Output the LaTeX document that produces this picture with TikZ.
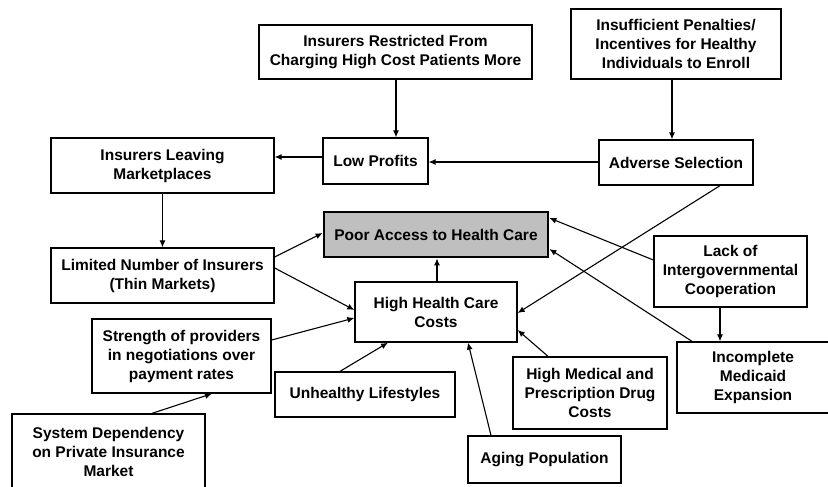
\documentclass[tikz,border=0pt]{standalone}
\usepackage{fontspec}
\setmainfont{Liberation Sans}
\usetikzlibrary{arrows.meta}
\begin{document}
\begin{tikzpicture}[x=1pt,y=-1pt,
  box/.style={draw, line width=1.3pt, rectangle, inner sep=0pt, align=center,
    font=\fontsize{15.5}{19}\selectfont\bfseries},
  sz/.style 2 args={minimum width=#1pt, minimum height=#2pt},
  focus/.style={box, fill=black!25, line width=2.8pt},
  link/.style={line width=1.1pt, -{Latex[length=7pt,width=6pt]}}]
\useasboundingbox (0,0) rectangle (828,487);
\begin{scope}
\clip (0,0) rectangle (828,487);
% boxes
\node[box, sz={273}{54}] (restr) at (395.5,52) {Insurers Restricted From\\Charging High Cost Patients More};
\node[box, sz={210}{70}] (insuf) at (676,44) {Insufficient Penalties/\\Incentives for Healthy\\Individuals to Enroll};
\node[box, sz={223}{55}] (leaving) at (162.5,165.5) {Insurers Leaving\\Marketplaces};
\node[box, sz={105}{46}] (lowp) at (375.5,161) {Low Profits};
\node[box, sz={154}{45}] (adverse) at (676,162.5) {Adverse Selection};
\node[focus, sz={224}{45}] (poor) at (436,234.5) {Poor Access to Health Care};
\node[box, sz={223}{55}] (limited) at (162.5,275.5) {Limited Number of Insurers\\(Thin Markets)};
\node[box, sz={162}{60}] (hhc) at (436,312) {High Health Care\\Costs};
\node[box, sz={179}{74}] (strength) at (181.5,356) {Strength of providers\\in negotiations over\\payment rates};
\node[box, sz={180}{45}] (unhealthy) at (365,394.5) {Unhealthy Lifestyles};
\node[box, sz={193}{76}] (system) at (108.5,452) {System Dependency\\on Private Insurance\\Market};
\node[box, sz={154}{72}] (himed) at (590,393) {High Medical and\\Prescription Drug\\Costs};
\node[box, sz={153}{47}] (aging) at (544.5,459.5) {Aging Population};
\node[box, sz={153}{71}] (lack) at (730.5,271.5) {Lack of\\Intergovernmental\\Cooperation};
\node[box, sz={152}{71}] (incomplete) at (753,377.5) {Incomplete\\Medicaid\\Expansion};
% connectors
\draw[link] (restr.south -| 396,0) -- (lowp.north -| 396,0);
\draw[link] (insuf.south -| 672,0) -- (adverse.north -| 672,0);
\draw[link] (lowp.west |- 0,157) -- (leaving.east |- 0,157);
\draw[link] (adverse.west |- 0,162) -- (lowp.east |- 0,162);
\draw[link] (leaving.south) -- (limited.north);
\draw[link] (limited.east |- 0,257) -- (poor.west |- 0,233);
\draw[link] (limited.east |- 0,268) -- (hhc.west |- 0,310);
\draw[link] (strength.east |- 0,340) -- (hhc.west |- 0,318);
\draw[link] (unhealthy.north -| 340,0) -- (hhc.south -| 388,0);
\draw[link] (system.north -| 152,0) -- (strength.south -| 212,0);
\draw[link] (hhc.north -| 437,0) -- (poor.south -| 437,0);
\draw[link] (adverse.south -| 720,0) -- (hhc.east |- 0,313);
\draw[link] (lack.west |- 0,260) -- (poor.east |- 0,218);
\draw[link] (incomplete.north -| 692,0) -- (poor.east |- 0,249);
\draw[link] (lack.south -| 720,0) -- (incomplete.north -| 720,0);
\draw[link] (aging.north -| 491,0) -- (hhc.south -| 468,0);
\draw[link] (himed.north -| 548,0) -- (hhc.east |- 0,330);
\end{scope}
\end{tikzpicture}
\end{document}
